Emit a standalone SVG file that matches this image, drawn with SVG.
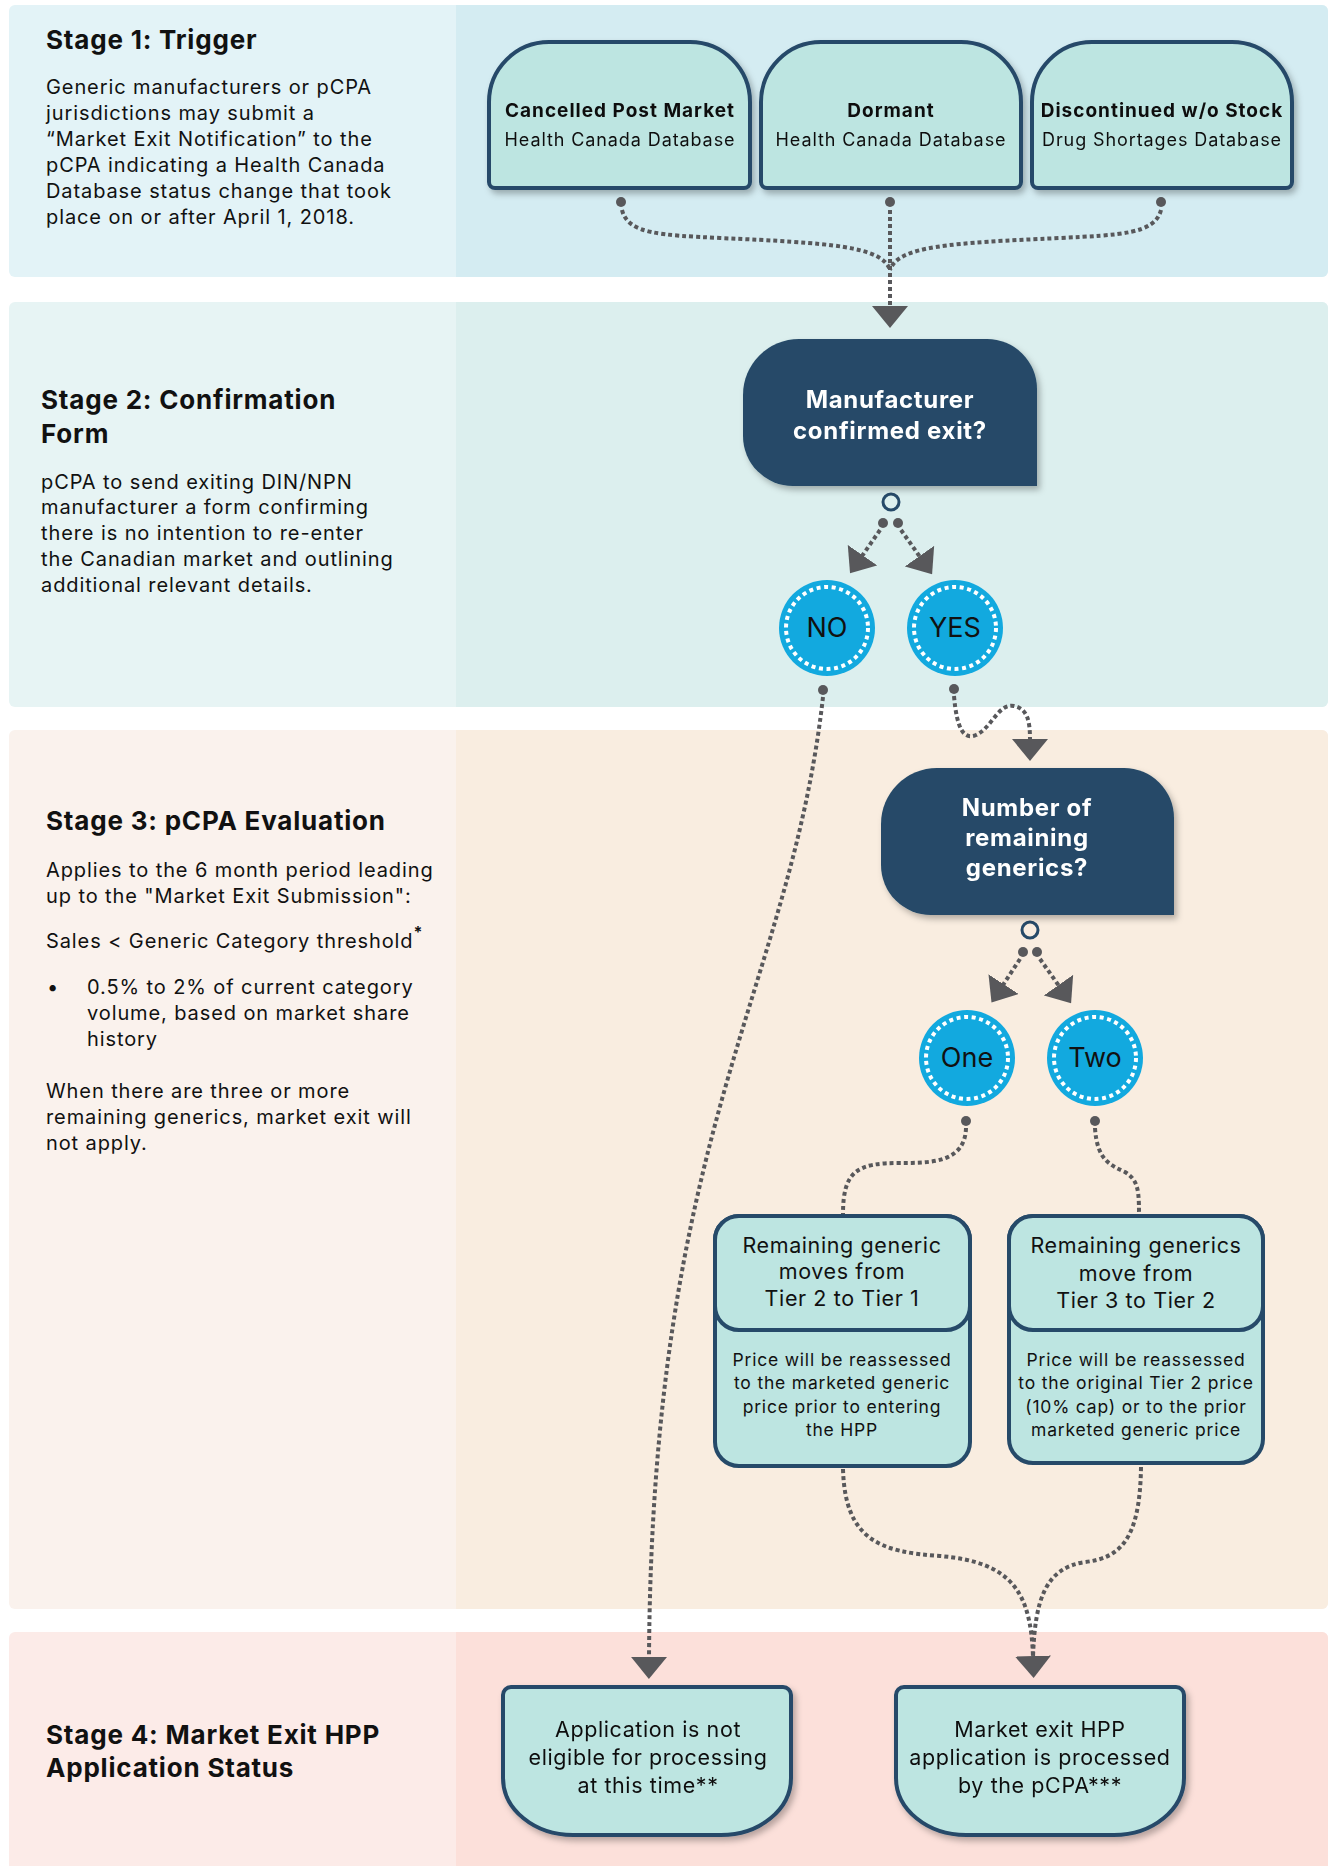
<svg xmlns="http://www.w3.org/2000/svg" width="1333" height="1866" viewBox="0 0 1333 1866">
<defs>
  <filter id="sh" x="-10%" y="-10%" width="130%" height="140%">
    <feDropShadow dx="3" dy="4" stdDeviation="3" flood-color="#000" flood-opacity="0.28"/>
  </filter>
  <marker id="arr" viewBox="0 0 22 36" refX="1" refY="18" markerWidth="22" markerHeight="36" markerUnits="userSpaceOnUse" orient="auto">
    <path d="M0,0 L22,18 L0,36 Z" fill="#58585b"/>
  </marker>
  <style>
    text { font-family: Inter, "Liberation Sans", sans-serif; fill: #111; }
    .h { font-size: 26px; font-weight: 700; letter-spacing: 0.8px; }
    .b { font-size: 20px; letter-spacing: 0.9px; }
    .node { fill: #bde5e1; stroke: #264a69; stroke-width: 4; }
    .dark { fill: #254a68; }
    .dt { font-size: 24px; font-weight: 700; fill: #fff; text-anchor: middle; letter-spacing: 0.7px; }
    .bt { font-size: 19px; font-weight: 700; text-anchor: middle; letter-spacing: 1px; }
    .st { font-size: 18px; text-anchor: middle; letter-spacing: 0.9px; }
    .nt { font-size: 21.5px; text-anchor: middle; letter-spacing: 0.6px; }
    .pt { font-size: 17.5px; text-anchor: middle; letter-spacing: 0.8px; }
    .ct { font-size: 27px; text-anchor: middle; }
    .circ { fill: #12a9df; }
    .ring { fill: none; stroke: #fff; stroke-width: 4; stroke-dasharray: 4 3.6; }
    .con { fill: none; stroke: #58585b; stroke-width: 4; stroke-dasharray: 4 3; }
    .dot { fill: #58585b; }
    .jn { fill: none; stroke: #264a69; stroke-width: 3; }
  </style>
</defs>

<!-- Stage panels -->
<g id="stage1">
  <rect x="9" y="5" width="1319" height="272" rx="6" fill="#e3f3f7"/>
  <rect x="456" y="5" width="872" height="272" rx="6" fill="#d4ecf2"/>
  <rect x="456" y="5" width="20" height="272" fill="#d4ecf2"/>
  <text class="h" x="46" y="49">Stage 1: Trigger</text>
  <text class="b" x="46" y="94">Generic manufacturers or pCPA</text>
  <text class="b" x="46" y="120">jurisdictions may submit a</text>
  <text class="b" x="46" y="146">“Market Exit Notification” to the</text>
  <text class="b" x="46" y="172">pCPA indicating a Health Canada</text>
  <text class="b" x="46" y="198">Database status change that took</text>
  <text class="b" x="46" y="224">place on or after April 1, 2018.</text>
</g>
<g id="stage2">
  <rect x="9" y="302" width="1319" height="405" rx="6" fill="#e7f4f4"/>
  <rect x="456" y="302" width="872" height="405" rx="6" fill="#dcefee"/>
  <rect x="456" y="302" width="20" height="405" fill="#dcefee"/>
  <text class="h" x="41" y="409">Stage 2: Confirmation</text>
  <text class="h" x="41" y="443">Form</text>
  <text class="b" x="41" y="489">pCPA to send exiting DIN/NPN</text>
  <text class="b" x="41" y="514">manufacturer a form confirming</text>
  <text class="b" x="41" y="540">there is no intention to re-enter</text>
  <text class="b" x="41" y="566">the Canadian market and outlining</text>
  <text class="b" x="41" y="592">additional relevant details.</text>
</g>
<g id="stage3">
  <rect x="9" y="730" width="1319" height="879" rx="6" fill="#faf2ed"/>
  <rect x="456" y="730" width="872" height="879" rx="6" fill="#f9ede0"/>
  <rect x="456" y="730" width="20" height="879" fill="#f9ede0"/>
  <text class="h" x="46" y="830">Stage 3: pCPA Evaluation</text>
  <text class="b" x="46" y="877">Applies to the 6 month period leading</text>
  <text class="b" x="46" y="903">up to the "Market Exit Submission":</text>
  <text class="b" x="46" y="948">Sales &lt; Generic Category threshold<tspan font-size="16" font-weight="700" dy="-10">*</tspan></text>
  <text class="b" x="47" y="994">•</text>
  <text class="b" x="87" y="994">0.5% to 2% of current category</text>
  <text class="b" x="87" y="1020">volume, based on market share</text>
  <text class="b" x="87" y="1046">history</text>
  <text class="b" x="46" y="1098">When there are three or more</text>
  <text class="b" x="46" y="1124">remaining generics, market exit will</text>
  <text class="b" x="46" y="1150">not apply.</text>
</g>
<g id="stage4">
  <rect x="9" y="1632" width="1319" height="250" rx="6" fill="#fcebe8"/>
  <rect x="456" y="1632" width="872" height="250" rx="6" fill="#fce0da"/>
  <rect x="456" y="1632" width="20" height="250" fill="#fce0da"/>
  <text class="h" x="46" y="1744">Stage 4: Market Exit HPP</text>
  <text class="h" x="46" y="1777">Application Status</text>
</g>

<!-- Connectors -->
<g id="connectors">
  <circle class="dot" cx="621" cy="202" r="5"/>
  <circle class="dot" cx="890" cy="202" r="5"/>
  <circle class="dot" cx="1161" cy="202" r="5"/>
  <path class="con" d="M622,210 C628,234 660,235 720,238 C830,243 882,246 890,270"/>
  <path class="con" d="M1161,210 C1155,234 1120,235 1060,238 C950,243 898,246 890,270"/>
  <path class="con" d="M890,210 L890,307" marker-end="url(#arr)"/>

  <circle class="jn" cx="891" cy="502" r="8"/>
  <circle class="dot" cx="883" cy="523" r="5"/>
  <circle class="dot" cx="898" cy="523" r="5"/>
  <path class="con" d="M880,530 L862,556" marker-end="url(#arr)"/>
  <path class="con" d="M901,530 L920,557" marker-end="url(#arr)"/>

  <circle class="dot" cx="823" cy="690" r="5"/>
  <path class="con" d="M823,697 C790,990 652,1130 649,1658" marker-end="url(#arr)"/>

  <circle class="dot" cx="954" cy="689" r="5"/>
  <path class="con" d="M954,696 C957,730 964,740 976,735 C992,728 998,703 1014,706 C1028,709 1030,722 1030,740" marker-end="url(#arr)"/>

  <circle class="jn" cx="1030" cy="930" r="8"/>
  <circle class="dot" cx="1023" cy="952" r="5"/>
  <circle class="dot" cx="1037" cy="952" r="5"/>
  <path class="con" d="M1020,959 L1003,985" marker-end="url(#arr)"/>
  <path class="con" d="M1040,959 L1059,986" marker-end="url(#arr)"/>

  <circle class="dot" cx="966" cy="1121" r="5"/>
  <path class="con" d="M966,1128 C965,1163 930,1163 900,1163 C858,1163 843,1170 843,1214"/>
  <circle class="dot" cx="1095" cy="1121" r="5"/>
  <path class="con" d="M1095,1128 C1097,1160 1110,1165 1125,1172 C1138,1180 1139,1190 1139,1214"/>

  <path class="con" d="M843,1469 C845,1540 880,1552 940,1556 C1010,1562 1031,1590 1033,1657" marker-end="url(#arr)"/>
  <path class="con" d="M1141,1467 C1140,1540 1120,1558 1085,1562 C1045,1568 1035,1600 1033,1657"/>
</g>

<!-- Stage 1 nodes -->
<g id="cancelled" filter="url(#sh)">
  <path class="node" d="M489,182 L489,102 A60,60 0 0 1 549,42 L690,42 A60,60 0 0 1 750,102 L750,182 A6,6 0 0 1 744,188 L495,188 A6,6 0 0 1 489,182 Z"/>
  <text class="bt" x="620" y="117">Cancelled Post Market</text>
  <text class="st" x="620" y="146">Health Canada Database</text>
</g>
<g id="dormant" filter="url(#sh)">
  <path class="node" d="M761,182 L761,102 A60,60 0 0 1 821,42 L961,42 A60,60 0 0 1 1021,102 L1021,182 A6,6 0 0 1 1015,188 L767,188 A6,6 0 0 1 761,182 Z"/>
  <text class="bt" x="891" y="117">Dormant</text>
  <text class="st" x="891" y="146">Health Canada Database</text>
</g>
<g id="discontinued" filter="url(#sh)">
  <path class="node" d="M1032,182 L1032,102 A60,60 0 0 1 1092,42 L1232,42 A60,60 0 0 1 1292,102 L1292,182 A6,6 0 0 1 1286,188 L1038,188 A6,6 0 0 1 1032,182 Z"/>
  <text class="bt" x="1162" y="117">Discontinued w/o Stock</text>
  <text class="st" x="1162" y="146">Drug Shortages Database</text>
</g>

<!-- Stage 2 nodes -->
<g id="confirmed" filter="url(#sh)">
  <path class="dark" d="M743,395 A56,56 0 0 1 799,339 L987,339 A50,50 0 0 1 1037,389 L1037,486 L793,486 A50,50 0 0 1 743,436 Z"/>
  <text class="dt" x="890" y="408">Manufacturer</text>
  <text class="dt" x="890" y="439">confirmed exit?</text>
</g>
<g id="no">
  <circle class="circ" cx="827" cy="628" r="48"/>
  <circle class="ring" cx="827" cy="628" r="41"/>
  <text class="ct" x="827" y="637">NO</text>
</g>
<g id="yes">
  <circle class="circ" cx="955" cy="628" r="48"/>
  <circle class="ring" cx="955" cy="628" r="41"/>
  <text class="ct" x="955" y="637">YES</text>
</g>

<!-- Stage 3 nodes -->
<g id="remaining" filter="url(#sh)">
  <path class="dark" d="M881,824 A56,56 0 0 1 937,768 L1124,768 A50,50 0 0 1 1174,818 L1174,915 L931,915 A50,50 0 0 1 881,865 Z"/>
  <text class="dt" x="1027" y="816">Number of</text>
  <text class="dt" x="1027" y="846">remaining</text>
  <text class="dt" x="1027" y="876">generics?</text>
</g>
<g id="one">
  <circle class="circ" cx="967" cy="1058" r="48"/>
  <circle class="ring" cx="967" cy="1058" r="41"/>
  <text class="ct" x="967" y="1067">One</text>
</g>
<g id="two">
  <circle class="circ" cx="1095" cy="1058" r="48"/>
  <circle class="ring" cx="1095" cy="1058" r="41"/>
  <text class="ct" x="1095" y="1067">Two</text>
</g>
<g id="tier1">
  <rect class="node" x="715" y="1216" width="255" height="250" rx="24"/>
  <rect class="node" x="715" y="1216" width="255" height="114" rx="24"/>
  <text class="nt" x="842" y="1253">Remaining generic</text>
  <text class="nt" x="842" y="1279">moves from</text>
  <text class="nt" x="842" y="1306">Tier 2 to Tier 1</text>
  <text class="pt" x="842" y="1366">Price will be reassessed</text>
  <text class="pt" x="842" y="1389">to the marketed generic</text>
  <text class="pt" x="842" y="1413">price prior to entering</text>
  <text class="pt" x="842" y="1436">the HPP</text>
</g>
<g id="tier2">
  <rect class="node" x="1009" y="1216" width="254" height="247" rx="24"/>
  <rect class="node" x="1009" y="1216" width="254" height="114" rx="24"/>
  <text class="nt" x="1136" y="1253">Remaining generics</text>
  <text class="nt" x="1136" y="1281">move from</text>
  <text class="nt" x="1136" y="1308">Tier 3 to Tier 2</text>
  <text class="pt" x="1136" y="1366">Price will be reassessed</text>
  <text class="pt" x="1136" y="1389">to the original Tier 2 price</text>
  <text class="pt" x="1136" y="1413">(10% cap) or to the prior</text>
  <text class="pt" x="1136" y="1436">marketed generic price</text>
</g>

<!-- Stage 4 nodes -->
<g id="noteligible" filter="url(#sh)">
  <path class="node" d="M503,1695 A8,8 0 0 1 511,1687 L783,1687 A8,8 0 0 1 791,1695 L791,1778 A70,57 0 0 1 721,1835 L573,1835 A70,57 0 0 1 503,1778 Z"/>
  <text class="nt" x="648" y="1737">Application is not</text>
  <text class="nt" x="648" y="1765">eligible for processing</text>
  <text class="nt" x="648" y="1793">at this time**</text>
</g>
<g id="processed" filter="url(#sh)">
  <path class="node" d="M896,1695 A8,8 0 0 1 904,1687 L1176,1687 A8,8 0 0 1 1184,1695 L1184,1778 A70,57 0 0 1 1114,1835 L966,1835 A70,57 0 0 1 896,1778 Z"/>
  <text class="nt" x="1040" y="1737">Market exit HPP</text>
  <text class="nt" x="1040" y="1765">application is processed</text>
  <text class="nt" x="1040" y="1793">by the pCPA***</text>
</g>
</svg>
